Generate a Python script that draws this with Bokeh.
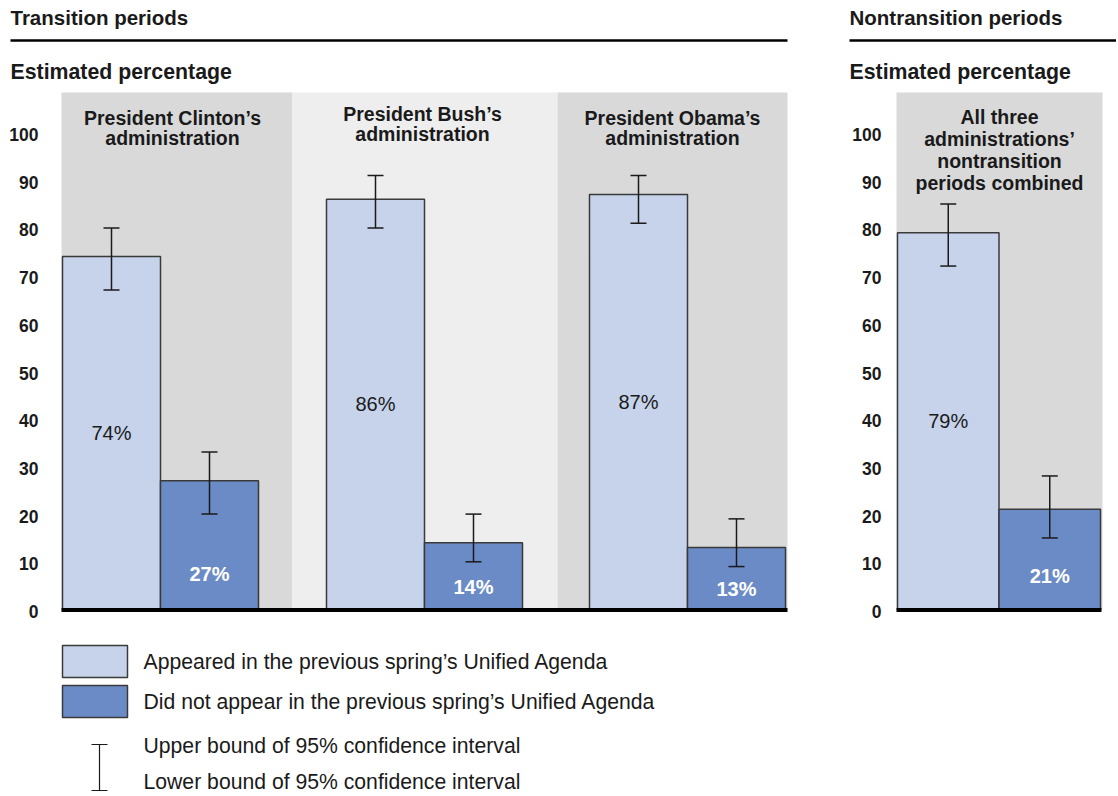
from bokeh.plotting import figure
from bokeh.models import Range1d
from bokeh.embed import file_html
from bokeh.resources import INLINE
from bokeh.core.properties import value

# ---------------- data ----------------
section_titles = ["Transition periods", "Nontransition periods"]
axis_title = "Estimated percentage"
panel_headers = [
    ["President Clinton’s", "administration"],
    ["President Bush’s", "administration"],
    ["President Obama’s", "administration"],
    ["All three", "administrations’", "nontransition", "periods combined"],
]
appeared = [74, 86, 87, 79]
appeared_low = [67, 80, 81, 72]
appeared_high = [80, 91, 91, 85]
not_appeared = [27, 14, 13, 21]
not_appeared_low = [20, 10, 9, 15]
not_appeared_high = [33, 20, 19, 28]
y_ticks = [0, 10, 20, 30, 40, 50, 60, 70, 80, 90, 100]
legend_labels = [
    "Appeared in the previous spring’s Unified Agenda",
    "Did not appear in the previous spring’s Unified Agenda",
    "Upper bound of 95% confidence interval",
    "Lower bound of 95% confidence interval",
]

# ---------------- layout ----------------
W, H = 1116, 794
BASE = 609.0   # screen y of value 0
S = 4.77       # px per percentage point


def sy(py):
    return (BASE - py) / S


FONT = "Liberation Sans"
LIGHT = "#c6d3ea"
DARK = "#6b8bc6"
GRAY = "#d9d9da"
PALE = "#eeeeee"
EDGE = "#3a3a3a"
INK = "#1a1a1a"

p = figure(width=W, height=H, output_backend="svg", toolbar_location=None,
           x_range=Range1d(0, W), y_range=Range1d(sy(H), sy(0)),
           min_border=0, outline_line_color=None)
p.axis.visible = False
p.grid.visible = False
p.background_fill_color = "white"
p.border_fill_color = "white"

# background regions for each panel
reg_left = [61, 292, 557, 896]
reg_right = [292, 557, 787, 1102]
reg_col = [GRAY, PALE, GRAY, GRAY]
p.quad(left=reg_left, right=reg_right, bottom=0, top=sy(92), fill_color=reg_col, line_color=None)

# bars
group_left = [62, 326, 589, 897]
bw = [98, 98, 98, 101.5]
l1 = list(group_left)
r1 = [g + w for g, w in zip(group_left, bw)]
l2 = r1
r2 = [g + 2 * w for g, w in zip(group_left, bw)]
c1 = [(a + b) / 2 for a, b in zip(l1, r1)]
c2 = [(a + b) / 2 for a, b in zip(l2, r2)]
p.quad(left=l1, right=r1, bottom=0, top=appeared, fill_color=LIGHT, line_color=EDGE, line_width=1.5)
p.quad(left=l2, right=r2, bottom=0, top=not_appeared, fill_color=DARK, line_color=EDGE, line_width=1.5)

# error bars
cap = 8
for cx, lo, hi in [(c1, appeared_low, appeared_high), (c2, not_appeared_low, not_appeared_high)]:
    p.segment(x0=cx, x1=cx, y0=lo, y1=hi, line_color=INK, line_width=1.5)
    p.segment(x0=[x - cap for x in cx], x1=[x + cap for x in cx], y0=hi, y1=hi, line_color=INK, line_width=1.5)
    p.segment(x0=[x - cap for x in cx], x1=[x + cap for x in cx], y0=lo, y1=lo, line_color=INK, line_width=1.5)

# baselines
p.segment(x0=[61, 896], x1=[787, 1101], y0=[sy(609.5)] * 2, y1=[sy(609.5)] * 2, line_color="black", line_width=4)

# value labels
p.text(x=c1, y=[v / 2 for v in appeared], text=[f"{v}%" for v in appeared],
       text_font=value(FONT), text_font_size="20px", text_color=INK,
       text_align="center", text_baseline="middle")
p.text(x=c2, y=[min(7.5, v * 0.33) for v in not_appeared], text=[f"{v}%" for v in not_appeared],
       text_font=value(FONT), text_font_size="20px", text_font_style="bold", text_color="white",
       text_align="center", text_baseline="middle")

# panel headers
hdr_x = [172, 422, 672, 999]
hdr_top = [117, 113, 117, 116]
hdr_step = [20.5, 20.5, 20.5, 22.2]
hx, hy, ht = [], [], []
for lines, x0, t0, st in zip(panel_headers, hdr_x, hdr_top, hdr_step):
    for i, line in enumerate(lines):
        hx.append(x0)
        hy.append(sy(t0 + i * st))
        ht.append(line)
p.text(x=hx, y=hy, text=ht, text_font=value(FONT), text_font_size="19.5px",
       text_font_style="bold", text_color=INK, text_align="center", text_baseline="middle")

# y tick labels (two panels)
for xr in [38, 881]:
    p.text(x=[xr] * len(y_ticks), y=y_ticks, text=[str(t) for t in y_ticks],
           text_font=value(FONT), text_font_size="17.5px", text_font_style="bold",
           text_color=INK, text_align="right", text_baseline="middle", y_offset=2)

# section titles, rules, axis titles
p.text(x=[10, 849], y=[sy(17)] * 2, text=section_titles, text_font=value(FONT),
       text_font_size="20.5px", text_font_style="bold", text_color=INK,
       text_align="left", text_baseline="middle")
p.segment(x0=[10, 849], x1=[787, W], y0=[sy(40)] * 2, y1=[sy(40)] * 2, line_color="black", line_width=2.5)
p.text(x=[10, 849], y=[sy(71)] * 2, text=[axis_title] * 2, text_font=value(FONT),
       text_font_size="21.3px", text_font_style="bold", text_color=INK,
       text_align="left", text_baseline="middle")

# legend
p.quad(left=[62, 62], right=[127, 127], bottom=[sy(677), sy(717)], top=[sy(645), sy(685)],
       fill_color=[LIGHT, DARK], line_color=EDGE, line_width=1.5)
p.segment(x0=[99, 91, 91], x1=[99, 107, 107], y0=[sy(744), sy(744), sy(790)], y1=[sy(790), sy(744), sy(790)],
          line_color=INK, line_width=1.2)
p.text(x=[143] * 4, y=[sy(661), sy(701), sy(745), sy(781)], text=legend_labels,
       text_font=value(FONT), text_font_size="21.2px", text_color=INK,
       text_align="left", text_baseline="middle")

open("out.html", "w").write(file_html(p, INLINE))
